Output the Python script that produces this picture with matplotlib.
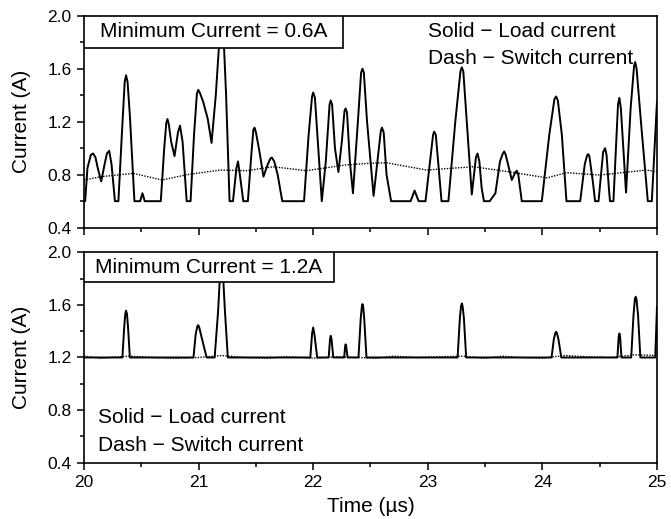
#!/usr/bin/env python3
import matplotlib
matplotlib.use("Agg")
import matplotlib.pyplot as plt
from matplotlib.patches import Rectangle
from matplotlib.ticker import MultipleLocator

# top panel: minimum current 0.6 A
top_load_t = [20.00, 20.01, 20.03, 20.06, 20.08, 20.10, 20.12, 20.15, 20.18, 20.20, 20.22, 20.24,
              20.27, 20.30, 20.33, 20.355, 20.367, 20.38, 20.40, 20.44, 20.49, 20.51, 20.53,
              20.67, 20.70, 20.718, 20.728, 20.74, 20.76, 20.79, 20.82, 20.838, 20.86, 20.896,
              20.93, 20.96, 20.985, 20.997, 21.01, 21.04, 21.08, 21.113, 21.15, 21.18, 21.20,
              21.22, 21.24, 21.27, 21.30, 21.33, 21.344, 21.36, 21.39, 21.43, 21.46, 21.478,
              21.488, 21.50, 21.53, 21.566, 21.60, 21.625, 21.639, 21.66, 21.69, 21.73, 21.92,
              21.96, 21.99, 22.00, 22.015, 22.04, 22.075, 22.11, 22.143, 22.153, 22.165, 22.19,
              22.22, 22.25, 22.273, 22.283, 22.295, 22.32, 22.347, 22.39, 22.418, 22.43, 22.442,
              22.47, 22.527, 22.56, 22.59, 22.60, 22.615, 22.64, 22.68, 22.85, 22.885, 22.92,
              22.98, 23.02, 23.046, 23.056, 23.07, 23.09, 23.12, 23.18, 23.24, 23.285, 23.297,
              23.31, 23.34, 23.384, 23.42, 23.434, 23.45, 23.47, 23.49, 23.54, 23.59, 23.63,
              23.655, 23.667, 23.68, 23.733, 23.765, 23.777, 23.79, 23.82, 23.995, 24.06, 24.105,
              24.12, 24.135, 24.17, 24.21, 24.33, 24.37, 24.39, 24.40, 24.41, 24.44, 24.46,
              24.49, 24.53, 24.547, 24.56, 24.58, 24.59, 24.62, 24.66, 24.672, 24.685, 24.73,
              24.77, 24.80, 24.81, 24.822, 24.86, 24.92, 24.955, 25.00]
top_load_i = [0.60, 0.60, 0.85, 0.95, 0.96, 0.93, 0.85, 0.75, 0.88, 0.96, 0.98, 0.88,
              0.60, 0.60, 1.10, 1.50, 1.55, 1.50, 1.25, 0.60, 0.60, 0.66, 0.60,
              0.60, 1.00, 1.19, 1.22, 1.18, 1.05, 0.94, 1.12, 1.17, 1.05, 0.60,
              0.60, 1.10, 1.41, 1.44, 1.42, 1.35, 1.22, 1.04, 1.40, 1.80, 1.95,
              1.80, 1.40, 0.60, 0.60, 0.85, 0.90, 0.80, 0.60, 0.60, 0.95, 1.14,
              1.155, 1.12, 0.98, 0.785, 0.87, 0.92, 0.93, 0.90, 0.80, 0.60, 0.60,
              1.10, 1.39, 1.42, 1.38, 1.05, 0.60, 0.90, 1.33, 1.36, 1.33, 1.00,
              0.82, 1.05, 1.28, 1.30, 1.27, 0.90, 0.66, 1.20, 1.57, 1.60, 1.57,
              1.20, 0.64, 0.90, 1.13, 1.155, 1.12, 0.80, 0.60, 0.60, 0.68, 0.60,
              0.60, 0.90, 1.10, 1.125, 1.10, 0.90, 0.60, 0.60, 1.20, 1.58, 1.61,
              1.58, 1.20, 0.65, 0.93, 0.96, 0.90, 0.70, 0.60, 0.60, 0.66, 0.90,
              0.96, 0.975, 0.95, 0.76, 0.82, 0.83, 0.80, 0.60, 0.60, 1.10, 1.37,
              1.39, 1.36, 1.10, 0.60, 0.60, 0.88, 0.945, 0.955, 0.94, 0.75, 0.60,
              0.60, 0.97, 1.00, 0.95, 0.70, 0.60, 0.60, 1.33, 1.38, 1.30, 0.665,
              1.30, 1.62, 1.65, 1.60, 1.20, 0.60, 0.60, 1.35]

top_switch_t = [20.00, 20.15, 20.43, 20.68, 20.90, 21.19, 21.42, 21.65, 21.94, 22.28, 22.49,
                22.64, 22.99, 23.40, 23.72, 24.04, 24.21, 24.50, 24.91, 25.00]
top_switch_i = [0.76, 0.785, 0.81, 0.76, 0.80, 0.835, 0.83, 0.86, 0.83, 0.873, 0.886,
                0.89, 0.835, 0.86, 0.82, 0.776, 0.815, 0.797, 0.835, 0.823]

# bottom panel: minimum current 1.2 A
bot_load_t = [20.00, 20.26, 20.335, 20.35, 20.36, 20.367, 20.375, 20.385, 20.40,
              20.955, 20.975, 20.99, 20.997, 21.005, 21.03, 21.07,
              21.14, 21.17, 21.19, 21.20, 21.21, 21.23, 21.255,
              21.975, 21.99, 22.00, 22.01, 22.035,
              22.135, 22.147, 22.153, 22.16, 22.175,
              22.27, 22.279, 22.283, 22.288, 22.30,
              22.395, 22.415, 22.425, 22.43, 22.436, 22.445, 22.465,
              23.26, 23.28, 23.29, 23.297, 23.304, 23.315, 23.335,
              24.08, 24.10, 24.113, 24.12, 24.127, 24.14, 24.165,
              24.655, 24.666, 24.672, 24.678, 24.69,
              24.775, 24.795, 24.807, 24.814, 24.821, 24.835, 24.855,
              24.985, 25.00]
bot_load_i = [1.20, 1.20, 1.20, 1.42, 1.53, 1.556, 1.53, 1.42, 1.20,
              1.20, 1.38, 1.44, 1.446, 1.43, 1.34, 1.20,
              1.20, 1.55, 1.88, 1.95, 1.88, 1.55, 1.20,
              1.20, 1.38, 1.428, 1.38, 1.20,
              1.20, 1.34, 1.365, 1.34, 1.20,
              1.20, 1.285, 1.30, 1.285, 1.20,
              1.20, 1.50, 1.59, 1.606, 1.59, 1.50, 1.20,
              1.20, 1.50, 1.59, 1.611, 1.59, 1.50, 1.20,
              1.20, 1.34, 1.385, 1.396, 1.385, 1.34, 1.20,
              1.20, 1.36, 1.383, 1.36, 1.20,
              1.20, 1.52, 1.645, 1.662, 1.645, 1.52, 1.20,
              1.20, 1.586]

bot_switch_t = [20.00, 20.15, 20.30, 20.40, 20.60, 20.80, 21.00, 21.20, 21.40, 21.60, 21.75,
                21.90, 22.00, 22.20, 22.40, 22.55, 22.70, 22.90, 23.10, 23.30, 23.50, 23.65,
                23.80, 24.00, 24.20, 24.40, 24.60, 24.80, 25.00]
bot_switch_i = [1.21, 1.195, 1.205, 1.21, 1.20, 1.195, 1.20, 1.215, 1.20, 1.195, 1.205,
                1.20, 1.195, 1.205, 1.20, 1.195, 1.21, 1.20, 1.205, 1.21, 1.195, 1.21,
                1.20, 1.195, 1.215, 1.205, 1.20, 1.22, 1.215]

panel_labels = ["Minimum Current = 0.6A", "Minimum Current = 1.2A"]
legend_lines = ["Solid \u2212 Load current", "Dash \u2212 Switch current"]

plt.rcParams["font.family"] = ["Liberation Sans", "DejaVu Sans"]

fig = plt.figure(figsize=(6.71, 5.19), dpi=100)
ax1 = fig.add_axes([0.1252, 0.5613, 0.8539, 0.4085])
ax2 = fig.add_axes([0.1252, 0.1085, 0.8539, 0.4054])

ax1.plot(top_load_t, top_load_i, color="black", lw=1.4, zorder=3)
ax1.plot(top_switch_t, top_switch_i, color="black", lw=1.0, ls=(0, (1, 1)), zorder=2)
ax2.plot(bot_load_t, bot_load_i, color="black", lw=1.4, zorder=3)
ax2.plot(bot_switch_t, bot_switch_i, color="black", lw=1.0, ls=(0, (1, 1)), zorder=2)

boxes = [(0.4515, 0.154), (0.436, 0.143)]
for ax, label, (bw, bh) in zip([ax1, ax2], panel_labels, boxes):
    ax.set_xlim(20, 25)
    ax.set_ylim(0.4, 2.0)
    ax.xaxis.set_major_locator(MultipleLocator(1))
    ax.xaxis.set_minor_locator(MultipleLocator(0.5))
    ax.yaxis.set_major_locator(MultipleLocator(0.4))
    ax.yaxis.set_minor_locator(MultipleLocator(0.2))
    ax.tick_params(which="major", direction="out", length=5, width=1.1, labelsize=12.5, pad=4)
    ax.tick_params(which="minor", direction="out", length=3, width=1.1)
    for sp in ax.spines.values():
        sp.set_linewidth(1.2)
    ax.set_ylabel("Current (A)", fontsize=15)
    ax.yaxis.set_label_coords(-0.092, 0.5)
    ax.add_patch(Rectangle((0, 1 - bh), bw, bh, transform=ax.transAxes, fc="white",
                           ec="black", lw=1.2, zorder=5))
    ax.text(bw / 2, 1 - bh / 2, label, transform=ax.transAxes, ha="center", va="center",
            fontsize=15, zorder=6)

ax1.tick_params(labelbottom=False)
ax1.text(23.0, 1.884, legend_lines[0], ha="left", va="center", fontsize=15, zorder=6)
ax1.text(23.0, 1.68, legend_lines[1], ha="left", va="center", fontsize=15, zorder=6)
ax2.text(20.126, 0.74, legend_lines[0], ha="left", va="center", fontsize=15, zorder=6)
ax2.text(20.126, 0.527, legend_lines[1], ha="left", va="center", fontsize=15, zorder=6)
ax2.set_xlabel("Time (\u00b5s)", fontsize=15, labelpad=5)

fig.savefig("out.png", dpi=100)
